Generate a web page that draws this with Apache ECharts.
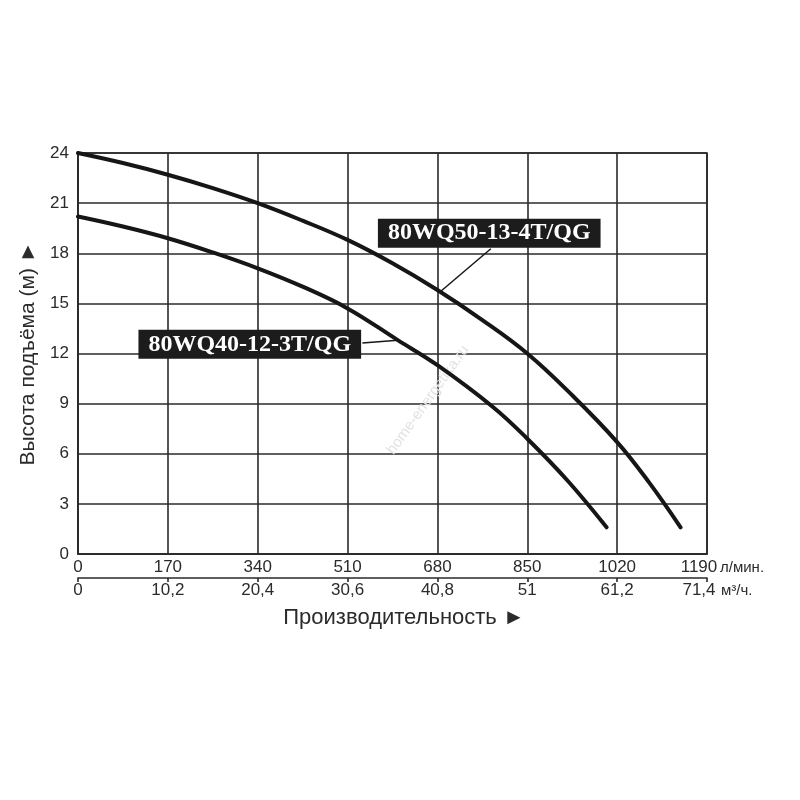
<!DOCTYPE html>
<html>
<head>
<meta charset="UTF-8">
<title>Напорные характеристики 80WQ</title>
<script src="https://cdn.jsdelivr.net/npm/echarts@6/dist/echarts.min.js"></script>
<style>
  html, body { margin: 0; padding: 0; background: #fff; }
  #chart { width: 800px; height: 800px; }
</style>
</head>
<body>
<div id="chart"></div>
<script type="text/javascript">

  // расход, л/мин и напор, м
  var q50 = [0, 85, 170, 255, 340, 425, 510, 595, 680, 765, 850, 935, 1020, 1080, 1140];
  var h50 = [24.0, 23.4, 22.7, 21.9, 21.0, 19.95, 18.8, 17.4, 15.8, 14.0, 12.0, 9.5, 6.7, 4.3, 1.6];

  var q40 = [0, 85, 170, 255, 340, 425, 510, 605, 680, 785, 850, 926, 1000];
  var h40 = [20.2, 19.6, 18.9, 18.05, 17.1, 16.0, 14.7, 12.8, 11.3, 8.8, 6.9, 4.4, 1.6];

  var name50 = '80WQ50-13-4T/QG';
  var name40 = '80WQ40-12-3T/QG';

  // подписи и выноски: [точка на кривой, точка у подписи], центр подписи
  var lead50 = [[687, 15.74], [781, 18.27]];
  var lead40 = [[605, 12.8], [538, 12.63]];
  var label50 = [778, 19.2];
  var label40 = [325, 12.55];

  var qMax = 1190, qStep = 170;
  var m3Max = 71.4, m3Step = 10.2;
  var hMax = 24, hStep = 3;

  function pairs(xs, ys) {
    var out = [];
    for (var i = 0; i < xs.length; i++) out.push([xs[i], ys[i]]);
    return out;
  }

  function tickText(max) {
    return function (v) {
      var s = String(+v.toFixed(1)).replace('.', ',');
      return Math.abs(v - max) < 1e-6 ? '{e|' + s + '}' : s;
    };
  }

  var sans = '"Liberation Sans", Arial, sans-serif';
  var ink = '#2b2b2b';
  var gridInk = '#2a2a2a';

  // последняя подпись чуть смещена влево, чтобы рядом поместились единицы
  var lastRich = { e: { color: ink, fontSize: 17, fontFamily: sans, padding: [0, 16, 0, 0] } };

  var boxLabel = {
    show: true,
    color: '#fff',
    backgroundColor: '#1c1c1c',
    fontFamily: '"Liberation Serif", "DejaVu Serif", serif',
    fontWeight: 'bold',
    fontSize: 24,
    padding: [3, 10, 2, 10],
    formatter: '{b}'
  };

  var myChart = echarts.init(document.getElementById('chart'));

  var option = {
    backgroundColor: '#fff',
    animation: false,
    title: {
      text: 'Производительность ►',
      left: 399,
      top: 602,
      textAlign: 'center',
      textStyle: {
        color: ink,
        fontSize: 22,
        fontWeight: 'normal',
        fontFamily: sans
      }
    },
    grid: {
      left: 78,
      right: 93,
      top: 153,
      bottom: 246,
      show: true,
      borderColor: gridInk,
      borderWidth: 1.6
    },
    xAxis: [
      {
        type: 'value',
        min: 0,
        max: qMax,
        interval: qStep,
        position: 'bottom',
        name: 'л/мин.',
        nameLocation: 'end',
        nameGap: 13,
        nameMoveOverlap: false,
        nameTextStyle: {
          color: ink,
          fontSize: 15,
          fontFamily: sans,
          verticalAlign: 'top',
          padding: [6, 0, 0, 0]
        },
        axisLine: { show: true, lineStyle: { color: gridInk, width: 1.6 } },
        axisTick: { show: false },
        axisLabel: {
          color: ink, fontSize: 17, fontFamily: sans, margin: 5,
          formatter: tickText(qMax), rich: lastRich
        },
        splitLine: { show: true, lineStyle: { color: gridInk, width: 1.6 } }
      },
      {
        type: 'value',
        min: 0,
        max: m3Max,
        interval: m3Step,
        position: 'bottom',
        offset: 24,
        name: 'м³/ч.',
        nameLocation: 'end',
        nameGap: 14,
        nameMoveOverlap: false,
        nameTextStyle: {
          color: ink,
          fontSize: 15,
          fontFamily: sans,
          verticalAlign: 'top',
          padding: [5, 0, 0, 0]
        },
        axisLine: { show: true, lineStyle: { color: gridInk, width: 1.6 } },
        axisTick: { show: true, length: 4, lineStyle: { color: gridInk, width: 1.6 } },
        axisLabel: {
          color: ink, fontSize: 17, fontFamily: sans, margin: 4,
          formatter: tickText(m3Max), rich: lastRich
        },
        splitLine: { show: false }
      }
    ],
    yAxis: {
      type: 'value',
      min: 0,
      max: hMax,
      interval: hStep,
      name: 'Высота подъёма (м) ►',
      nameLocation: 'middle',
      nameRotate: 90,
      nameGap: 37,
      nameTextStyle: {
        color: ink,
        fontSize: 21,
        fontFamily: sans
      },
      axisLine: { show: true, lineStyle: { color: gridInk, width: 1.6 } },
      axisTick: { show: false },
      axisLabel: { color: ink, fontSize: 17, fontFamily: sans, margin: 9 },
      splitLine: { show: true, lineStyle: { color: gridInk, width: 1.6 } }
    },
    graphic: [
      {
        type: 'text',
        x: 428,
        y: 400,
        rotation: 0.95,
        style: {
          text: 'home-energetika.ru',
          fill: '#e2e2e2',
          fontSize: 15,
          fontFamily: sans,
          textAlign: 'center',
          textVerticalAlign: 'middle'
        },
        z: 1
      }
    ],
    series: [
      {
        name: name50,
        type: 'line',
        xAxisIndex: 0,
        smooth: 0.4,
        showSymbol: false,
        symbol: 'none',
        lineStyle: { color: '#161616', width: 4, cap: 'round' },
        data: pairs(q50, h50),
        markLine: {
          silent: true,
          symbol: 'none',
          label: { show: false },
          lineStyle: { color: '#161616', width: 1.5, type: 'solid' },
          data: [[{ coord: lead50[0] }, { coord: lead50[1] }]]
        },
        markPoint: {
          silent: true,
          symbol: 'rect',
          symbolSize: 0,
          label: boxLabel,
          data: [{ name: name50, coord: label50 }]
        },
        z: 3
      },
      {
        name: name40,
        type: 'line',
        xAxisIndex: 0,
        smooth: 0.4,
        showSymbol: false,
        symbol: 'none',
        lineStyle: { color: '#161616', width: 4, cap: 'round' },
        data: pairs(q40, h40),
        markLine: {
          silent: true,
          symbol: 'none',
          label: { show: false },
          lineStyle: { color: '#161616', width: 1.5, type: 'solid' },
          data: [[{ coord: lead40[0] }, { coord: lead40[1] }]]
        },
        markPoint: {
          silent: true,
          symbol: 'rect',
          symbolSize: 0,
          label: boxLabel,
          data: [{ name: name40, coord: label40 }]
        },
        z: 3
      }
    ]
  };

  myChart.setOption(option);

</script>
</body>
</html>
